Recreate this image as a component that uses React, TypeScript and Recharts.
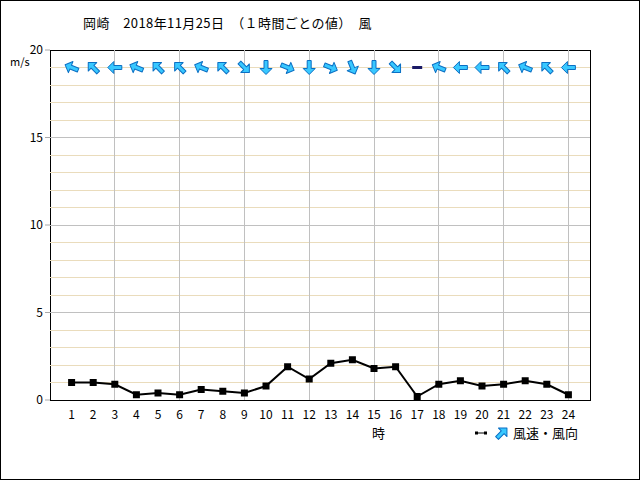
import React from "react";
import {
  ComposedChart,
  Line,
  Scatter,
  XAxis,
  YAxis,
  ReferenceLine,
  ReferenceArea,
} from "recharts";

const hours = [1, 2, 3, 4, 5, 6, 7, 8, 9, 10, 11, 12, 13, 14, 15, 16, 17, 18, 19, 20, 21, 22, 23, 24];
const windSpeed = [1.0, 1.0, 0.9, 0.3, 0.4, 0.3, 0.6, 0.5, 0.4, 0.8, 1.9, 1.2, 2.1, 2.3, 1.8, 1.9, 0.2, 0.9, 1.1, 0.8, 0.9, 1.1, 0.9, 0.3];
// direction the wind comes from
const windDir = [
  "東南東", "南東", "東", "東南東", "南東", "南東", "東南東", "南東",
  "北西", "北", "西北西", "北", "西北西", "北北西", "北", "北西",
  "静穏", "東南東", "東", "東", "南東", "東南東", "南東", "東",
];
const compass = ["北", "北北東", "北東", "東北東", "東", "東南東", "南東", "南南東", "南", "南南西", "南西", "西南西", "西", "西北西", "北西", "北北西"];
const yTicks = [0, 5, 10, 15, 20];
const minorLines = [1, 2, 3, 4, 6, 7, 8, 9, 11, 12, 13, 14, 16, 17, 18, 19];
const majorLines = [5, 10, 15];
const vLines = [3, 6, 9, 12, 15, 18, 21, 24];
const arrowRow = 19;

const speedData = hours.map((h, i) => ({ hour: h, speed: windSpeed[i] }));
const arrowData = hours.map((h, i) => ({ hour: h, y: arrowRow, dir: windDir[i] }));

const font = '"Noto Sans CJK JP", sans-serif';

function ArrowGlyph({ rot }: { rot: number }) {
  return (
    <g transform={`rotate(${rot})`}>
      <polygon
        points="0,-7 6,-1 2,-1 2,7 -2,7 -2,-1 -6,-1"
        fill="#38c8ff"
        stroke="#0a6fc4"
        strokeWidth={1}
        strokeLinejoin="round"
      />
    </g>
  );
}

function WindArrow(props: any) {
  const { cx, cy, payload } = props;
  if (payload.dir === "静穏") {
    return <rect x={cx - 5} y={cy - 1.5} width={10} height={3} fill="#1a1a66" />;
  }
  const rot = (compass.indexOf(payload.dir) * 22.5 + 180) % 360;
  return (
    <g transform={`translate(${cx},${cy})`}>
      <ArrowGlyph rot={rot} />
    </g>
  );
}

function SquareDot(props: any) {
  const { cx, cy } = props;
  return <rect x={cx - 3.5} y={cy - 3.5} width={7} height={7} fill="#000" />;
}

export default function App() {
  return (
    <div style={{ position: "fixed", left: 0, top: 0, width: 640, height: 480, background: "#fff", fontFamily: font }}>
      <style>{`.recharts-reference-line-line, .recharts-reference-area-rect { shape-rendering: crispEdges; }`}</style>
      <ComposedChart width={640} height={480} margin={{ top: 50, right: 50, bottom: 50, left: 10 }}>
        <XAxis
          type="number"
          dataKey="hour"
          domain={[0, 25]}
          ticks={hours}
          interval={0}
          axisLine={false}
          tickLine={false}
          height={30}
          tick={{ fill: "#000", fontSize: 12, fontFamily: font }}
          tickMargin={4}
        />
        <YAxis
          type="number"
          domain={[0, 20]}
          ticks={yTicks}
          axisLine={false}
          tickLine={{ stroke: "#a8a8a8" }}
          tickSize={5}
          width={40}
          tick={{ fill: "#000", fontSize: 12, fontFamily: font }}
        />
        {minorLines.map((v) => (
          <ReferenceLine key={`m${v}`} y={v} stroke="#eadcbc" strokeWidth={1} />
        ))}
        {majorLines.map((v) => (
          <ReferenceLine key={`M${v}`} y={v} stroke="#c0c0c0" strokeWidth={1} />
        ))}
        {vLines.map((v) => (
          <ReferenceLine key={`v${v}`} x={v} stroke="#c0c0c0" strokeWidth={1} />
        ))}
        <ReferenceArea x1={0} x2={25} y1={0} y2={20} fill="none" stroke="#000" strokeWidth={1} fillOpacity={0} />
        <Line
          data={speedData}
          dataKey="speed"
          stroke="#000"
          strokeWidth={2}
          dot={<SquareDot />}
          activeDot={false}
          isAnimationActive={false}
        />
        <Scatter data={arrowData} dataKey="y" shape={<WindArrow />} isAnimationActive={false} />
      </ComposedChart>

      <div style={{ position: "absolute", left: 83, top: 13, fontSize: 13, letterSpacing: 0.4, color: "#000", whiteSpace: "pre" }}>
        岡崎　2018年11月25日　（１時間ごとの値）　風
      </div>
      <div style={{ position: "absolute", left: 10, top: 53, fontSize: 11, color: "#000" }}>m/s</div>
      <div style={{ position: "absolute", left: 372, top: 423, fontSize: 13, color: "#000" }}>時</div>
      <div style={{ position: "absolute", left: 474, top: 423, fontSize: 13, color: "#000", display: "flex", alignItems: "center" }}>
        <svg width={36} height={18}>
          <line x1={2} y1={9} x2={12} y2={9} stroke="#000" strokeWidth={1} />
          <rect x={1} y={7.5} width={3} height={3} fill="#000" />
          <rect x={10} y={7.5} width={3} height={3} fill="#000" />
          <g transform="translate(28,9)">
            <ArrowGlyph rot={45} />
          </g>
        </svg>
        <span style={{ marginLeft: 3 }}>風速・風向</span>
      </div>
      <div style={{ position: "absolute", left: 0, top: 0, width: 640, height: 480, boxSizing: "border-box", border: "1px solid #000", pointerEvents: "none" }} />
    </div>
  );
}
